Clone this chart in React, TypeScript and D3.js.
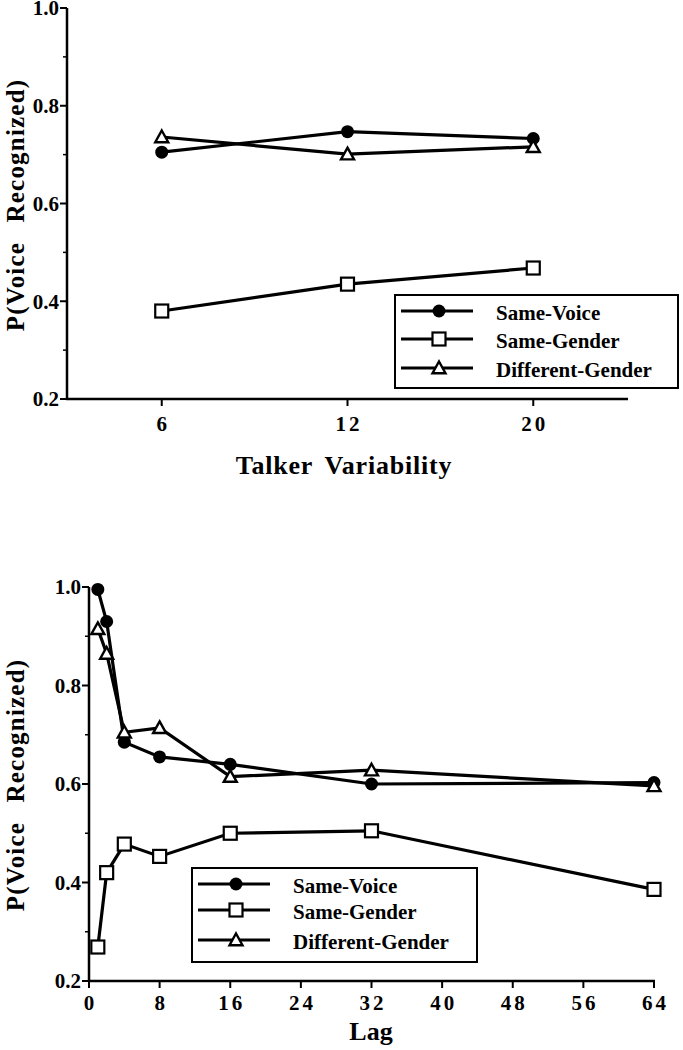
import React from "react";
import * as d3 from "d3";

const seriesNames = ["Same-Voice", "Same-Gender", "Different-Gender"];
const markerTypes = ["circle", "square", "triangle"];

const topCategories = ["6", "12", "20"];
const topSameVoice = [0.705, 0.747, 0.733];
const topSameGender = [0.38, 0.435, 0.468];
const topDiffGender = [0.736, 0.701, 0.716];

const lagValues = [1, 2, 4, 8, 16, 32, 64];
const lagSameVoice = [0.995, 0.93, 0.685, 0.655, 0.64, 0.6, 0.603];
const lagSameGender = [0.269, 0.42, 0.478, 0.453, 0.5, 0.505, 0.386];
const lagDiffGender = [0.915, 0.865, 0.705, 0.714, 0.615, 0.628, 0.596];

const yTicks = [0.2, 0.4, 0.6, 0.8, 1.0];
const yMinorTicks = [0.3, 0.5, 0.7, 0.9];
const lagTicks = [0, 8, 16, 24, 32, 40, 48, 56, 64];

const FONT = "'Liberation Serif', 'Times New Roman', serif";

function Marker({ type, x, y }: { type: string; x: number; y: number }) {
  if (type === "circle") return <circle cx={x} cy={y} r={6.5} fill="#000" />;
  if (type === "square")
    return <rect x={x - 6.5} y={y - 6.5} width={13} height={13} fill="#fff" stroke="#000" strokeWidth={2.2} />;
  const s = 6.5;
  return (
    <path
      d={`M${x},${y - s} L${x + s},${y + s * 0.8} L${x - s},${y + s * 0.8} Z`}
      fill="#fff"
      stroke="#000"
      strokeWidth={2.4}
      strokeLinejoin="miter"
    />
  );
}

function Legend({ x, y, w, h, rows }: { x: number; y: number; w: number; h: number; rows: number[] }) {
  return (
    <g>
      <rect x={x} y={y} width={w} height={h} fill="#fff" stroke="#000" strokeWidth={2} />
      {seriesNames.map((n, i) => (
        <g key={n}>
          <line x1={x + 6} x2={x + 78} y1={rows[i]} y2={rows[i]} stroke="#000" strokeWidth={3.2} />
          <Marker type={markerTypes[i]} x={x + 44} y={rows[i]} />
          <text x={x + 101} y={rows[i] + 2} dy="0.35em" fontFamily={FONT} fontWeight="bold" fontSize={21}>
            {n}
          </text>
        </g>
      ))}
    </g>
  );
}

function YAxis({ x, y }: { x: number; y: d3.ScaleLinear<number, number> }) {
  return (
    <g>
      <line x1={x} x2={x} y1={y(1.0)} y2={y(0.2)} stroke="#000" strokeWidth={2.5} />
      {yTicks.map((t) => (
        <g key={t}>
          <line x1={x - 7} x2={x} y1={y(t)} y2={y(t)} stroke="#000" strokeWidth={2} />
          <text x={x - 8} y={y(t)} dy="0.35em" textAnchor="end" fontFamily={FONT} fontWeight="bold" fontSize={21}>
            {t.toFixed(1)}
          </text>
        </g>
      ))}
      {yMinorTicks.map((t) => (
        <line key={t} x1={x - 4} x2={x} y1={y(t)} y2={y(t)} stroke="#000" strokeWidth={1.5} />
      ))}
    </g>
  );
}

export default function App() {
  // Top chart
  const xTop = d3.scalePoint<string>().domain(topCategories).range([67, 628]).padding(0.51);
  const yTop = d3.scaleLinear().domain([0.2, 1.0]).range([399, 8]);
  const topSeries = [topSameVoice, topSameGender, topDiffGender];
  const topLine = d3
    .line<number>()
    .x((_, i) => xTop(topCategories[i]) as number)
    .y((d) => yTop(d));

  // Bottom chart
  const xLag = d3.scaleLinear().domain([0, 64]).range([89, 654]);
  const yLag = d3.scaleLinear().domain([0.2, 1.0]).range([981, 587]);
  const lagSeries = [lagSameVoice, lagSameGender, lagDiffGender];
  const lagLine = d3
    .line<number>()
    .x((_, i) => xLag(lagValues[i]))
    .y((d) => yLag(d));

  return (
    <svg width={683} height={1050} style={{ position: "absolute", left: 0, top: 0 }}>
      <rect width={683} height={1050} fill="#fff" />

      {/* Top chart */}
      <YAxis x={67} y={yTop} />
      <line x1={66} x2={628} y1={399} y2={399} stroke="#000" strokeWidth={2.5} />
      {topCategories.map((c) => (
        <g key={c}>
          <line x1={xTop(c)} x2={xTop(c)} y1={399} y2={406} stroke="#000" strokeWidth={2} />
          <text x={(xTop(c) as number) + 1.5} y={424} dy="0.35em" textAnchor="middle" fontFamily={FONT} fontWeight="bold" fontSize={21} letterSpacing={3}>
            {c}
          </text>
        </g>
      ))}
      <text x={344} y={465} dy="0.35em" textAnchor="middle" fontFamily={FONT} fontWeight="bold" fontSize={26} letterSpacing={0.8} wordSpacing={5}>
        Talker Variability
      </text>
      <text
        transform={`translate(15,205) rotate(-90)`}
        dy="0.35em"
        textAnchor="middle"
        fontFamily={FONT}
        fontWeight="bold"
        fontSize={25}
        letterSpacing={1.2}
        wordSpacing={12}
      >
        P(Voice Recognized)
      </text>
      {topSeries.map((s, i) => (
        <path key={i} d={topLine(s) as string} fill="none" stroke="#000" strokeWidth={3.2} />
      ))}
      {topSeries.map((s, i) =>
        s.map((v, j) => <Marker key={`${i}-${j}`} type={markerTypes[i]} x={xTop(topCategories[j]) as number} y={yTop(v)} />)
      )}
      <Legend x={395} y={295} w={283} h={93} rows={[311, 339, 368]} />

      {/* Bottom chart */}
      <YAxis x={89} y={yLag} />
      <line x1={88} x2={655} y1={981} y2={981} stroke="#000" strokeWidth={2.5} />
      {lagTicks.map((t) => (
        <g key={t}>
          <line x1={xLag(t)} x2={xLag(t)} y1={981} y2={988} stroke="#000" strokeWidth={2} />
          <text x={xLag(t) + 1.5} y={1003} dy="0.35em" textAnchor="middle" fontFamily={FONT} fontWeight="bold" fontSize={21} letterSpacing={3}>
            {t}
          </text>
        </g>
      ))}
      <text x={371} y={1031} dy="0.35em" textAnchor="middle" fontFamily={FONT} fontWeight="bold" fontSize={26}>
        Lag
      </text>
      <text
        transform={`translate(15,785) rotate(-90)`}
        dy="0.35em"
        textAnchor="middle"
        fontFamily={FONT}
        fontWeight="bold"
        fontSize={25}
        letterSpacing={1.2}
        wordSpacing={12}
      >
        P(Voice Recognized)
      </text>
      {lagSeries.map((s, i) => (
        <path key={i} d={lagLine(s) as string} fill="none" stroke="#000" strokeWidth={3.2} />
      ))}
      {lagSeries.map((s, i) =>
        s.map((v, j) => <Marker key={`${i}-${j}`} type={markerTypes[i]} x={xLag(lagValues[j])} y={yLag(v)} />)
      )}
      <Legend x={192} y={868} w={285} h={94} rows={[884, 910, 940]} />
    </svg>
  );
}
